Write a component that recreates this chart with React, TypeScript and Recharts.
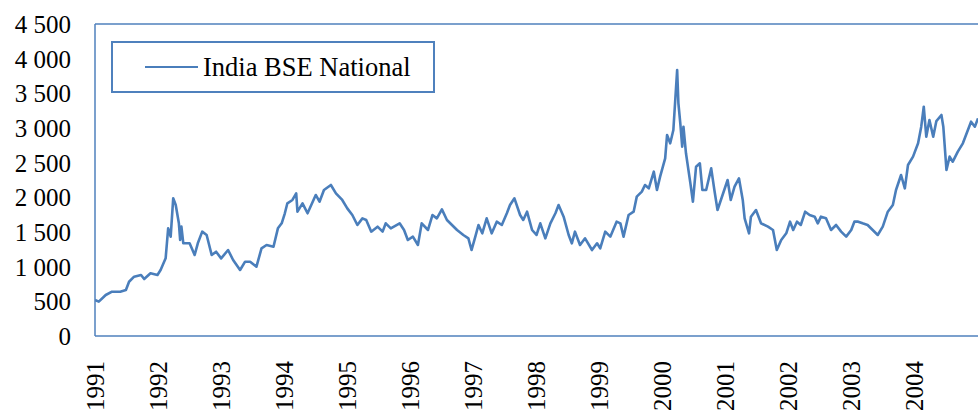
import { LineChart, Line, XAxis, YAxis, ReferenceLine } from 'recharts';

// decimal year of each reading
const dates = [
  1991.0, 1991.06, 1991.17, 1991.27, 1991.4, 1991.49, 1991.54, 1991.62, 1991.73, 1991.78, 1991.88, 1991.99,
  1992.04, 1992.12, 1992.16, 1992.2, 1992.24, 1992.28, 1992.33, 1992.35, 1992.37, 1992.4, 1992.5, 1992.58,
  1992.63, 1992.7, 1992.77, 1992.85, 1992.92, 1993.0, 1993.11, 1993.19, 1993.3, 1993.38, 1993.46, 1993.56,
  1993.64, 1993.72, 1993.83, 1993.9, 1993.96, 1994.01, 1994.05, 1994.13, 1994.19, 1994.21, 1994.29, 1994.37,
  1994.5, 1994.56, 1994.63, 1994.74, 1994.82, 1994.92, 1995.0, 1995.08, 1995.16, 1995.24, 1995.3, 1995.38,
  1995.48, 1995.56, 1995.61, 1995.69, 1995.83, 1995.9, 1995.96, 1996.04, 1996.12, 1996.18, 1996.28, 1996.35,
  1996.42, 1996.5, 1996.58, 1996.66, 1996.74, 1996.84, 1996.92, 1996.97, 1997.03, 1997.08, 1997.14, 1997.21,
  1997.29, 1997.37, 1997.45, 1997.53, 1997.58, 1997.65, 1997.74, 1997.79, 1997.85, 1997.93, 1998.0, 1998.06,
  1998.14, 1998.22, 1998.3, 1998.35, 1998.43, 1998.51, 1998.56, 1998.61, 1998.69, 1998.77, 1998.88, 1998.96,
  1999.01, 1999.09, 1999.17, 1999.27, 1999.33, 1999.38, 1999.46, 1999.54, 1999.59, 1999.67, 1999.72, 1999.78,
  1999.86, 1999.91, 1999.96, 2000.04, 2000.07, 2000.12, 2000.17, 2000.23, 2000.25, 2000.28, 2000.31, 2000.33,
  2000.37, 2000.44, 2000.48, 2000.53, 2000.59, 2000.63, 2000.69, 2000.77, 2000.82, 2000.87, 2000.95, 2001.03,
  2001.08, 2001.14, 2001.21, 2001.27, 2001.3, 2001.37, 2001.4, 2001.48, 2001.56, 2001.67, 2001.75, 2001.81,
  2001.88, 2001.96, 2002.02, 2002.07, 2002.13, 2002.19, 2002.26, 2002.33, 2002.41, 2002.46, 2002.51, 2002.59,
  2002.67, 2002.75, 2002.83, 2002.91, 2002.99, 2003.04, 2003.1, 2003.17, 2003.25, 2003.33, 2003.41, 2003.49,
  2003.57, 2003.65, 2003.7, 2003.78, 2003.84, 2003.89, 2003.97, 2004.05, 2004.1, 2004.14, 2004.18, 2004.23,
  2004.29, 2004.34, 2004.42, 2004.45, 2004.5, 2004.55, 2004.6, 2004.68, 2004.76, 2004.84, 2004.89, 2004.95,
  2005.0,
];

const bseNational = [
  519, 495, 591, 639, 639, 663, 783, 856, 880, 822, 904, 880,
  952, 1120, 1553, 1433, 1986, 1889, 1625, 1385, 1577, 1337, 1337, 1168,
  1337, 1505, 1457, 1168, 1216, 1120, 1240, 1096, 952, 1072, 1072, 1000,
  1265, 1313, 1288, 1553, 1625, 1770, 1914, 1962, 2058, 1793, 1914, 1770,
  2034, 1937, 2106, 2178, 2058, 1962, 1841, 1745, 1601, 1697, 1673, 1505,
  1577, 1505, 1625, 1553, 1625, 1529, 1385, 1433, 1313, 1625, 1529, 1745,
  1697, 1827, 1673, 1601, 1529, 1457, 1409, 1240, 1433, 1601, 1481, 1697,
  1481, 1649, 1601, 1770, 1889, 1986, 1745, 1673, 1793, 1529, 1457, 1625,
  1409, 1625, 1770, 1889, 1721, 1457, 1337, 1505, 1313, 1409, 1240, 1337,
  1265, 1505, 1433, 1649, 1625, 1433, 1745, 1793, 2010, 2082, 2178, 2130,
  2370, 2106, 2298, 2563, 2899, 2779, 2971, 3837, 3356, 3068, 2731, 3019,
  2635, 2202, 1937, 2442, 2491, 2106, 2106, 2418, 2106, 1817, 2034, 2250,
  1962, 2154, 2274, 1962, 1697, 1481, 1721, 1817, 1625, 1577, 1529, 1240,
  1385, 1481, 1649, 1529, 1649, 1601, 1793, 1745, 1721, 1625, 1721, 1697,
  1529, 1601, 1505, 1433, 1529, 1649, 1649, 1625, 1601, 1529, 1457, 1577,
  1793, 1889, 2106, 2322, 2130, 2466, 2587, 2779, 3019, 3307, 2875, 3115,
  2875, 3100, 3188, 3019, 2394, 2587, 2514, 2659, 2779, 2971, 3091, 3019,
  3139,
];

const yearTicks = [1991, 1992, 1993, 1994, 1995, 1996, 1997, 1998, 1999, 2000, 2001, 2002, 2003, 2004];
const valueTicks = [0, 500, 1000, 1500, 2000, 2500, 3000, 3500, 4000, 4500];

const data = dates.map((t, i) => ({ t, value: bseNational[i] }));

const FONT = '"Liberation Serif", "Times New Roman", serif';
const LINE = '#4A7EBB';
const FRAME = '#4F81BD';

const fmtThousands = (v: number) =>
  v >= 1000 ? `${Math.floor(v / 1000)} ${String(v % 1000).padStart(3, '0')}` : String(v);

// rotated year label, its top end sits 25px under the axis
const YearTick = ({ x, y, payload }: any) => (
  <text
    x={x}
    y={y + 25}
    dy="0.34em"
    transform={`rotate(-90, ${x}, ${y + 25})`}
    textAnchor="end"
    fill="#000"
    fontSize={25}
    fontFamily={FONT}
  >
    {payload.value}
  </text>
);

// legend drawn as an overlay so it does not shrink the plot area
const LegendBox = () => (
  <div
    style={{
      position: 'absolute',
      left: 111,
      top: 41,
      width: 320,
      height: 48,
      border: `2px solid ${FRAME}`,
      background: '#fff',
      display: 'flex',
      alignItems: 'center',
      fontFamily: FONT,
      fontSize: 26.5,
      color: '#000',
    }}
  >
    <svg width={90} height={10}>
      <line x1={32} y1={5} x2={85} y2={5} stroke={LINE} strokeWidth={2} />
    </svg>
    <span>India BSE National</span>
  </div>
);

export default function App() {
  return (
    <div style={{ position: 'absolute', left: 0, top: 0, width: 978, height: 417, background: '#fff' }}>
      <LineChart width={978} height={417} data={data} margin={{ top: 24, right: 0, bottom: 0, left: 0 }}>
        <XAxis
          dataKey="t"
          type="number"
          domain={[1991, 2005]}
          ticks={yearTicks}
          allowDataOverflow
          height={81}
          tickLine={false}
          tickSize={0}
          tickMargin={0}
          axisLine={{ stroke: FRAME, strokeWidth: 1.5 }}
          tick={<YearTick />}
          interval={0}
        />
        <YAxis
          type="number"
          domain={[0, 4500]}
          ticks={valueTicks}
          width={95}
          tickLine={false}
          tickSize={0}
          tickMargin={24}
          axisLine={{ stroke: FRAME, strokeWidth: 1.5 }}
          tickFormatter={fmtThousands}
          tick={{ fill: '#000', fontSize: 25, fontFamily: FONT }}
          interval={0}
        />
        <ReferenceLine y={4500} stroke={FRAME} strokeWidth={1.5} />
        <Line
          type="linear"
          dataKey="value"
          name="India BSE National"
          stroke={LINE}
          strokeWidth={2.6}
          strokeLinejoin="round"
          dot={false}
          isAnimationActive={false}
        />
      </LineChart>
      <LegendBox />
    </div>
  );
}
